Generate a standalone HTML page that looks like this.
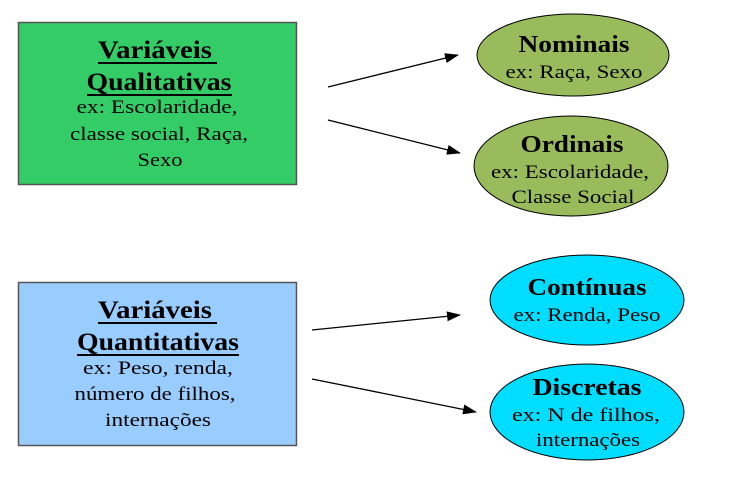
<!DOCTYPE html>
<html><head><meta charset="utf-8"><style>
html,body{margin:0;padding:0;background:#fff;}
svg{display:block;}
text{font-family:"Liberation Serif",serif;fill:#000;}
.t{font-size:25px;font-weight:bold;}
.b{font-size:19px;}
</style></head><body>
<svg width="743" height="482" viewBox="0 0 743 482" xmlns="http://www.w3.org/2000/svg">
<defs><marker id="a" markerWidth="14" markerHeight="10" refX="13" refY="5" orient="auto" markerUnits="userSpaceOnUse"><path d="M0,0 L14,5 L0,10 Z" fill="#000"/></marker></defs>
<rect x="18.5" y="22.5" width="278" height="162" fill="#33cc66" stroke="#555" stroke-width="1.5"/>
<rect x="18.5" y="282.5" width="278" height="163" fill="#99ccff" stroke="#555" stroke-width="1.5"/>
<ellipse cx="573" cy="55" rx="96" ry="41" fill="#99bb5c" stroke="#000"/>
<ellipse cx="571" cy="166" rx="97" ry="50" fill="#99bb5c" stroke="#000"/>
<ellipse cx="587" cy="300" rx="97" ry="45" fill="#00ddff" stroke="#000"/>
<ellipse cx="587" cy="412" rx="97" ry="48" fill="#00ddff" stroke="#000"/>
<g stroke="#000" stroke-width="1.3" marker-end="url(#a)">
<line x1="328" y1="87" x2="458" y2="55"/>
<line x1="328" y1="120" x2="460" y2="153"/>
<line x1="312" y1="330" x2="460" y2="315"/>
<line x1="312" y1="379" x2="476" y2="412"/>
</g>
<g text-anchor="middle">
<text class="t" x="155" y="58" textLength="114" lengthAdjust="spacingAndGlyphs">Variáveis</text>
<text class="t" x="159" y="90" textLength="145" lengthAdjust="spacingAndGlyphs">Qualitativas</text>
<text class="b" x="157" y="113" textLength="161" lengthAdjust="spacingAndGlyphs">ex: Escolaridade,</text>
<text class="b" x="159" y="140" textLength="178" lengthAdjust="spacingAndGlyphs">classe social, Raça,</text>
<text class="b" x="160" y="166" textLength="45" lengthAdjust="spacingAndGlyphs">Sexo</text>
<text class="t" x="155" y="318" textLength="114" lengthAdjust="spacingAndGlyphs">Variáveis</text>
<text class="t" x="158" y="350" textLength="162" lengthAdjust="spacingAndGlyphs">Quantitativas</text>
<text class="b" x="158" y="374" textLength="150" lengthAdjust="spacingAndGlyphs">ex: Peso, renda,</text>
<text class="b" x="155" y="400" textLength="161" lengthAdjust="spacingAndGlyphs">número de filhos,</text>
<text class="b" x="158" y="426" textLength="106" lengthAdjust="spacingAndGlyphs">internações</text>
<text class="t" x="574" y="52" textLength="111" lengthAdjust="spacingAndGlyphs" style="font-size:24px">Nominais</text>
<text class="b" x="574" y="78" textLength="137" lengthAdjust="spacingAndGlyphs">ex: Raça, Sexo</text>
<text class="t" x="572" y="152" textLength="103" lengthAdjust="spacingAndGlyphs" style="font-size:24px">Ordinais</text>
<text class="b" x="570" y="178" textLength="158" lengthAdjust="spacingAndGlyphs">ex: Escolaridade,</text>
<text class="b" x="573" y="203" textLength="123" lengthAdjust="spacingAndGlyphs">Classe Social</text>
<text class="t" x="587" y="295" textLength="119" lengthAdjust="spacingAndGlyphs" style="font-size:24px">Contínuas</text>
<text class="b" x="587" y="321" textLength="147" lengthAdjust="spacingAndGlyphs">ex: Renda, Peso</text>
<text class="t" x="587" y="395" textLength="109" lengthAdjust="spacingAndGlyphs" style="font-size:24px">Discretas</text>
<text class="b" x="586" y="421" textLength="148" lengthAdjust="spacingAndGlyphs">ex: N de filhos,</text>
<text class="b" x="588" y="446" textLength="104" lengthAdjust="spacingAndGlyphs">internações</text>
</g>
<g stroke="#000" stroke-width="2">
<line x1="98" y1="63" x2="217" y2="63"/>
<line x1="87" y1="95" x2="232" y2="95"/>
<line x1="98" y1="323" x2="217" y2="323"/>
<line x1="77" y1="355" x2="239" y2="355"/>
</g>
</svg>
</body></html>
